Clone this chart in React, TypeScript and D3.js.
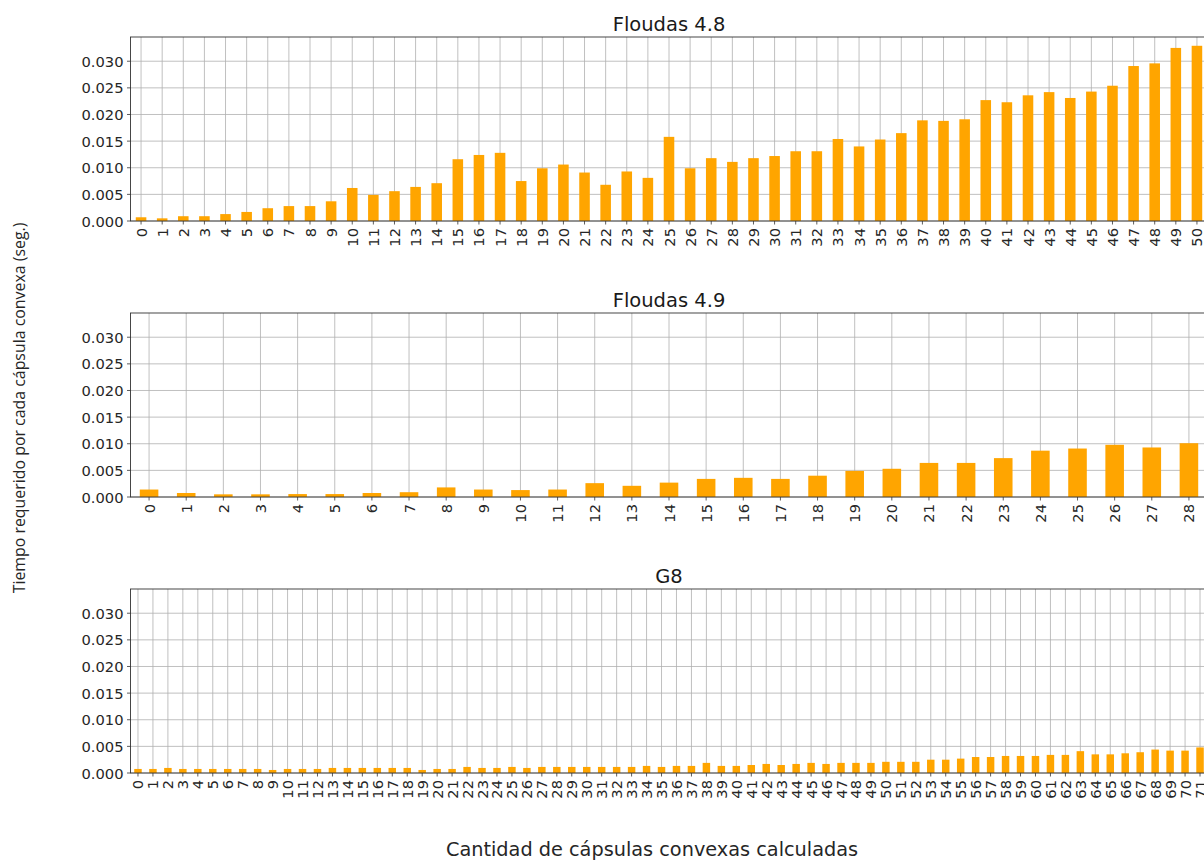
import React from "react";
import { scaleBand, scaleLinear, range } from "d3";

// tiempos por cápsula (seg.)
const floudas48 = [
  0.0007, 0.0005, 0.0009, 0.0009, 0.0013, 0.0017, 0.0024, 0.0028, 0.0028, 0.0037,
  0.0062, 0.0049, 0.0056, 0.0064, 0.0071, 0.0116, 0.0124, 0.0128, 0.0075, 0.0099,
  0.0106, 0.0091, 0.0068, 0.0093, 0.0081, 0.0158, 0.0099, 0.0118, 0.0111, 0.0118,
  0.0122, 0.0131, 0.0131, 0.0154, 0.014, 0.0153, 0.0165, 0.0189, 0.0188, 0.0191,
  0.0227, 0.0223, 0.0236, 0.0242, 0.0231, 0.0243, 0.0254, 0.0291, 0.0296, 0.0325,
  0.0329,
];

const floudas49 = [
  0.0014, 0.00075, 0.0005, 0.0005, 0.00055, 0.00055, 0.00075, 0.0009, 0.0018, 0.0014,
  0.0013, 0.0014, 0.0026, 0.0021, 0.0027, 0.0034, 0.0036, 0.0034, 0.004, 0.0049,
  0.0053, 0.0064, 0.0064, 0.0073, 0.0087, 0.0091, 0.0098, 0.0093, 0.0101,
];

const g8 = [
  0.00076, 0.00076, 0.00095, 0.00076, 0.00076, 0.00076, 0.00076, 0.00076, 0.00076, 0.00057,
  0.00076, 0.00076, 0.00076, 0.00095, 0.00095, 0.00095, 0.00095, 0.00095, 0.00095, 0.00057,
  0.00076, 0.00076, 0.00114, 0.00095, 0.00095, 0.00114, 0.00095, 0.00114, 0.00114, 0.00114,
  0.00114, 0.00114, 0.00114, 0.00114, 0.00133, 0.00114, 0.00133, 0.00133, 0.0019, 0.00133,
  0.00133, 0.0015, 0.0017, 0.0015, 0.0017, 0.0019, 0.0017, 0.0019, 0.0019, 0.0019,
  0.0021, 0.0021, 0.0021, 0.0025, 0.0025, 0.0027, 0.003, 0.003, 0.0032, 0.0032,
  0.0032, 0.0034, 0.0034, 0.0041, 0.0035, 0.0035, 0.0037, 0.0039, 0.0044, 0.0042,
  0.0042, 0.0048,
];

const yTicks = [0, 0.005, 0.01, 0.015, 0.02, 0.025, 0.03];
const titles = ["Floudas 4.8", "Floudas 4.9", "G8"];
const series = [floudas48, floudas49, g8];

const W = 1204;
const H = 860;
const left = 130.5;
const right = 1207.5;
const panelTops = [37, 313, 589];
const panelH = 184;
const yMax = 0.03455;
const FONT = "DejaVu Sans, sans-serif";
const TICK_FS = 14.7;

const Panel = ({ values, title, top }: { values: number[]; title: string; top: number }) => {
  const cats = range(values.length).map(String);
  const x = scaleBand<string>()
    .domain(cats)
    .range([left, right])
    .paddingInner(0.5)
    .paddingOuter(0.25);
  const y = scaleLinear().domain([0, yMax]).range([top + panelH, top]);
  const bw = x.bandwidth();
  const base = top + panelH;

  return (
    <g>
      {/* grid */}
      {cats.map((c) => {
        const cx = (x(c) as number) + bw / 2;
        return <line key={"gx" + c} x1={cx} x2={cx} y1={top} y2={base} stroke="#b0b0b0" strokeWidth={0.8} />;
      })}
      {yTicks.map((t) => (
        <line key={"gy" + t} x1={left} x2={right} y1={y(t)} y2={y(t)} stroke="#b0b0b0" strokeWidth={0.8} />
      ))}
      {/* bars */}
      {values.map((v, i) => (
        <rect
          key={"b" + i}
          x={x(String(i))}
          width={bw}
          y={y(v)}
          height={base - y(v)}
          fill="#ffa500"
        />
      ))}
      {/* frame */}
      <rect x={left} y={top} width={right - left} height={panelH} fill="none" stroke="#333" strokeWidth={0.9} />
      {/* y ticks */}
      {yTicks.map((t) => (
        <g key={"yt" + t}>
          <line x1={left - 3.5} x2={left} y1={y(t)} y2={y(t)} stroke="#333" strokeWidth={0.8} />
          <text x={left - 7} y={y(t)} textAnchor="end" dominantBaseline="central" fontSize={TICK_FS} fill="#262626" fontFamily={FONT}>
            {t.toFixed(3)}
          </text>
        </g>
      ))}
      {/* x ticks */}
      {cats.map((c) => {
        const cx = (x(c) as number) + bw / 2;
        return (
          <g key={"xt" + c}>
            <line x1={cx} x2={cx} y1={base} y2={base + 3.5} stroke="#333" strokeWidth={0.8} />
            <text
              transform={`translate(${cx},${base + 7}) rotate(-90)`}
              textAnchor="end"
              dominantBaseline="central"
              fontSize={TICK_FS}
              fill="#262626"
              fontFamily={FONT}
            >
              {c}
            </text>
          </g>
        );
      })}
      <text x={(left + right) / 2} y={top - 6} textAnchor="middle" fontSize={19.5} fill="#1a1a1a" fontFamily={FONT}>
        {title}
      </text>
    </g>
  );
};

export default function App() {
  return (
    <svg
      width={W}
      height={H}
      style={{ position: "absolute", left: 0, top: 0, background: "#fff", overflow: "hidden" }}
    >
      <rect x={0} y={0} width={W} height={H} fill="#fff" />
      {series.map((s, i) => (
        <Panel key={titles[i]} values={s} title={titles[i]} top={panelTops[i]} />
      ))}
      <text
        transform="translate(19,408) rotate(-90)"
        textAnchor="middle"
        dominantBaseline="central"
        fontSize={15.9}
        fill="#262626"
        fontFamily="Open Sans, sans-serif"
      >
        Tiempo requerido por cada cápsula convexa (seg.)
      </text>
      <text x={652} y={856} textAnchor="middle" fontSize={19.3} fill="#262626" fontFamily={FONT}>
        Cantidad de cápsulas convexas calculadas
      </text>
    </svg>
  );
}
